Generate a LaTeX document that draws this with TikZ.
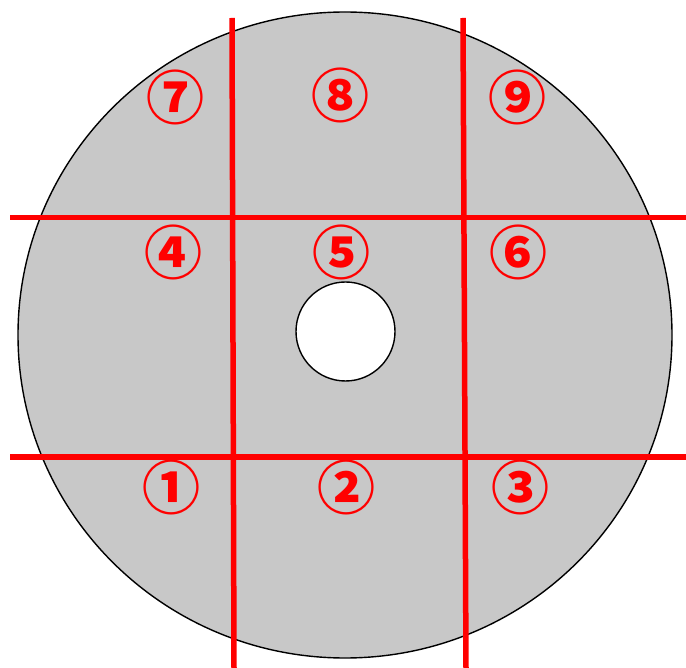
\documentclass[tikz,border=0pt]{standalone}
\usepackage{fontspec}
\newfontfamily\cjkfont{Noto Sans CJK JP}
\usetikzlibrary{positioning}
\definecolor{discgray}{RGB}{200,200,200}

\begin{document}
\begin{tikzpicture}[x=1pt,y=-1pt,
    cut/.style={draw=red,line width=5.5pt},
    zone/.style={text=red,inner sep=0pt,font=\cjkfont\bfseries\fontsize{58}{58}\selectfont}]
  \useasboundingbox (0,0) rectangle (686,668);
  % disc and hole
  \coordinate (C) at (345,335);
  \coordinate (H) at (345.5,331.5);
  \filldraw[fill=discgray,draw=black,line width=1.4pt] (C) ellipse [x radius=327,y radius=323];
  \filldraw[fill=white,draw=black,line width=1.4pt] (H) circle [radius=49.5];
  % cutting lines
  \coordinate (v1t) at (232,18);
  \coordinate (v1b) at (234,668);
  \coordinate (v2t) at (463,18);
  \coordinate (v2b) at (466,668);
  \coordinate (h1l) at (10,217.5);
  \coordinate (h1r) at (686,217.5);
  \coordinate (h2l) at (10,457);
  \coordinate (h2r) at (686,457);
  \draw[cut] (v1t) -- (v1b);
  \draw[cut] (v2t) -- (v2b);
  \draw[cut] (h1l) -- (h1r);
  \draw[cut] (h2l) -- (h2r);
  % zone numbers
  \node[zone] (z7) at (175,97) {⑦};
  \node[zone] (z8) at (340,95) {⑧};
  \node[zone] (z9) at (517,97) {⑨};
  \node[zone] (z4) at (173,252) {④};
  \node[zone] (z5) at (341,252) {⑤};
  \node[zone] (z6) at (518,252) {⑥};
  \node[zone] (z1) at (171,487) {①};
  \node[zone] (z2) at (346,487) {②};
  \node[zone] (z3) at (520,487) {③};
\end{tikzpicture}
\end{document}
